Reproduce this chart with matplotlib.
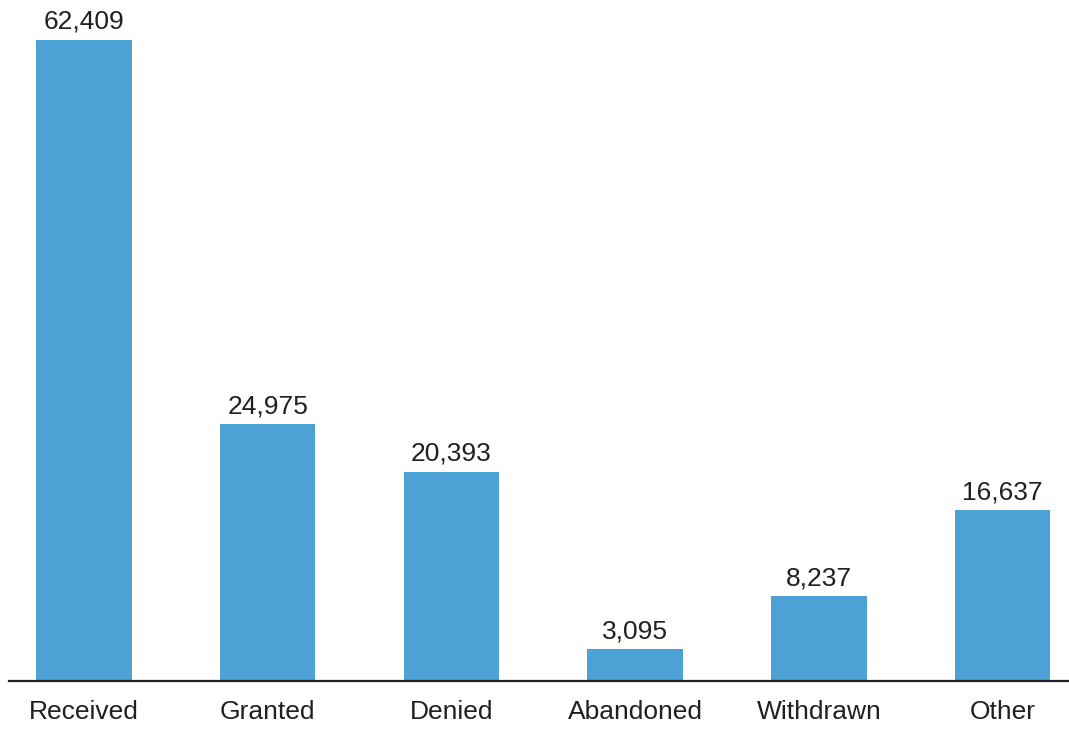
import matplotlib
matplotlib.use("Agg")
import matplotlib.pyplot as plt

plt.rcParams['font.family'] = ['Liberation Sans', 'DejaVu Sans']

categories = ["Received", "Granted", "Denied", "Abandoned", "Withdrawn", "Other"]
values = [62409, 24975, 20393, 3095, 8237, 16637]

bar_color = "#4ca2d4"
text_color = "#231f20"

fig = plt.figure(figsize=(10.69, 7.46), dpi=100)
ax = fig.add_axes([9 / 1069, 65 / 746, 1 - 9 / 1069, 1 - 65 / 746])

x = list(range(len(categories)))
bars = ax.bar(x, values, width=0.52, color=bar_color)

# value labels above each bar
for xi, v in zip(x, values):
    ax.annotate(f"{v:,}", (xi, v), xytext=(0, 8), textcoords="offset points",
                ha="center", va="baseline", fontsize=19, color=text_color)

ax.set_xlim(-0.408, 5.362)
ax.set_ylim(0, 62409 * 681 / 641)

ax.set_xticks(x)
ax.set_xticklabels(categories, fontsize=19, color=text_color)
ax.tick_params(axis="x", length=0, pad=13.5)
ax.set_yticks([])

for side in ["top", "right", "left"]:
    ax.spines[side].set_visible(False)
ax.spines["bottom"].set_color(text_color)
ax.spines["bottom"].set_linewidth(1.6)

fig.savefig("out.png", dpi=100)
